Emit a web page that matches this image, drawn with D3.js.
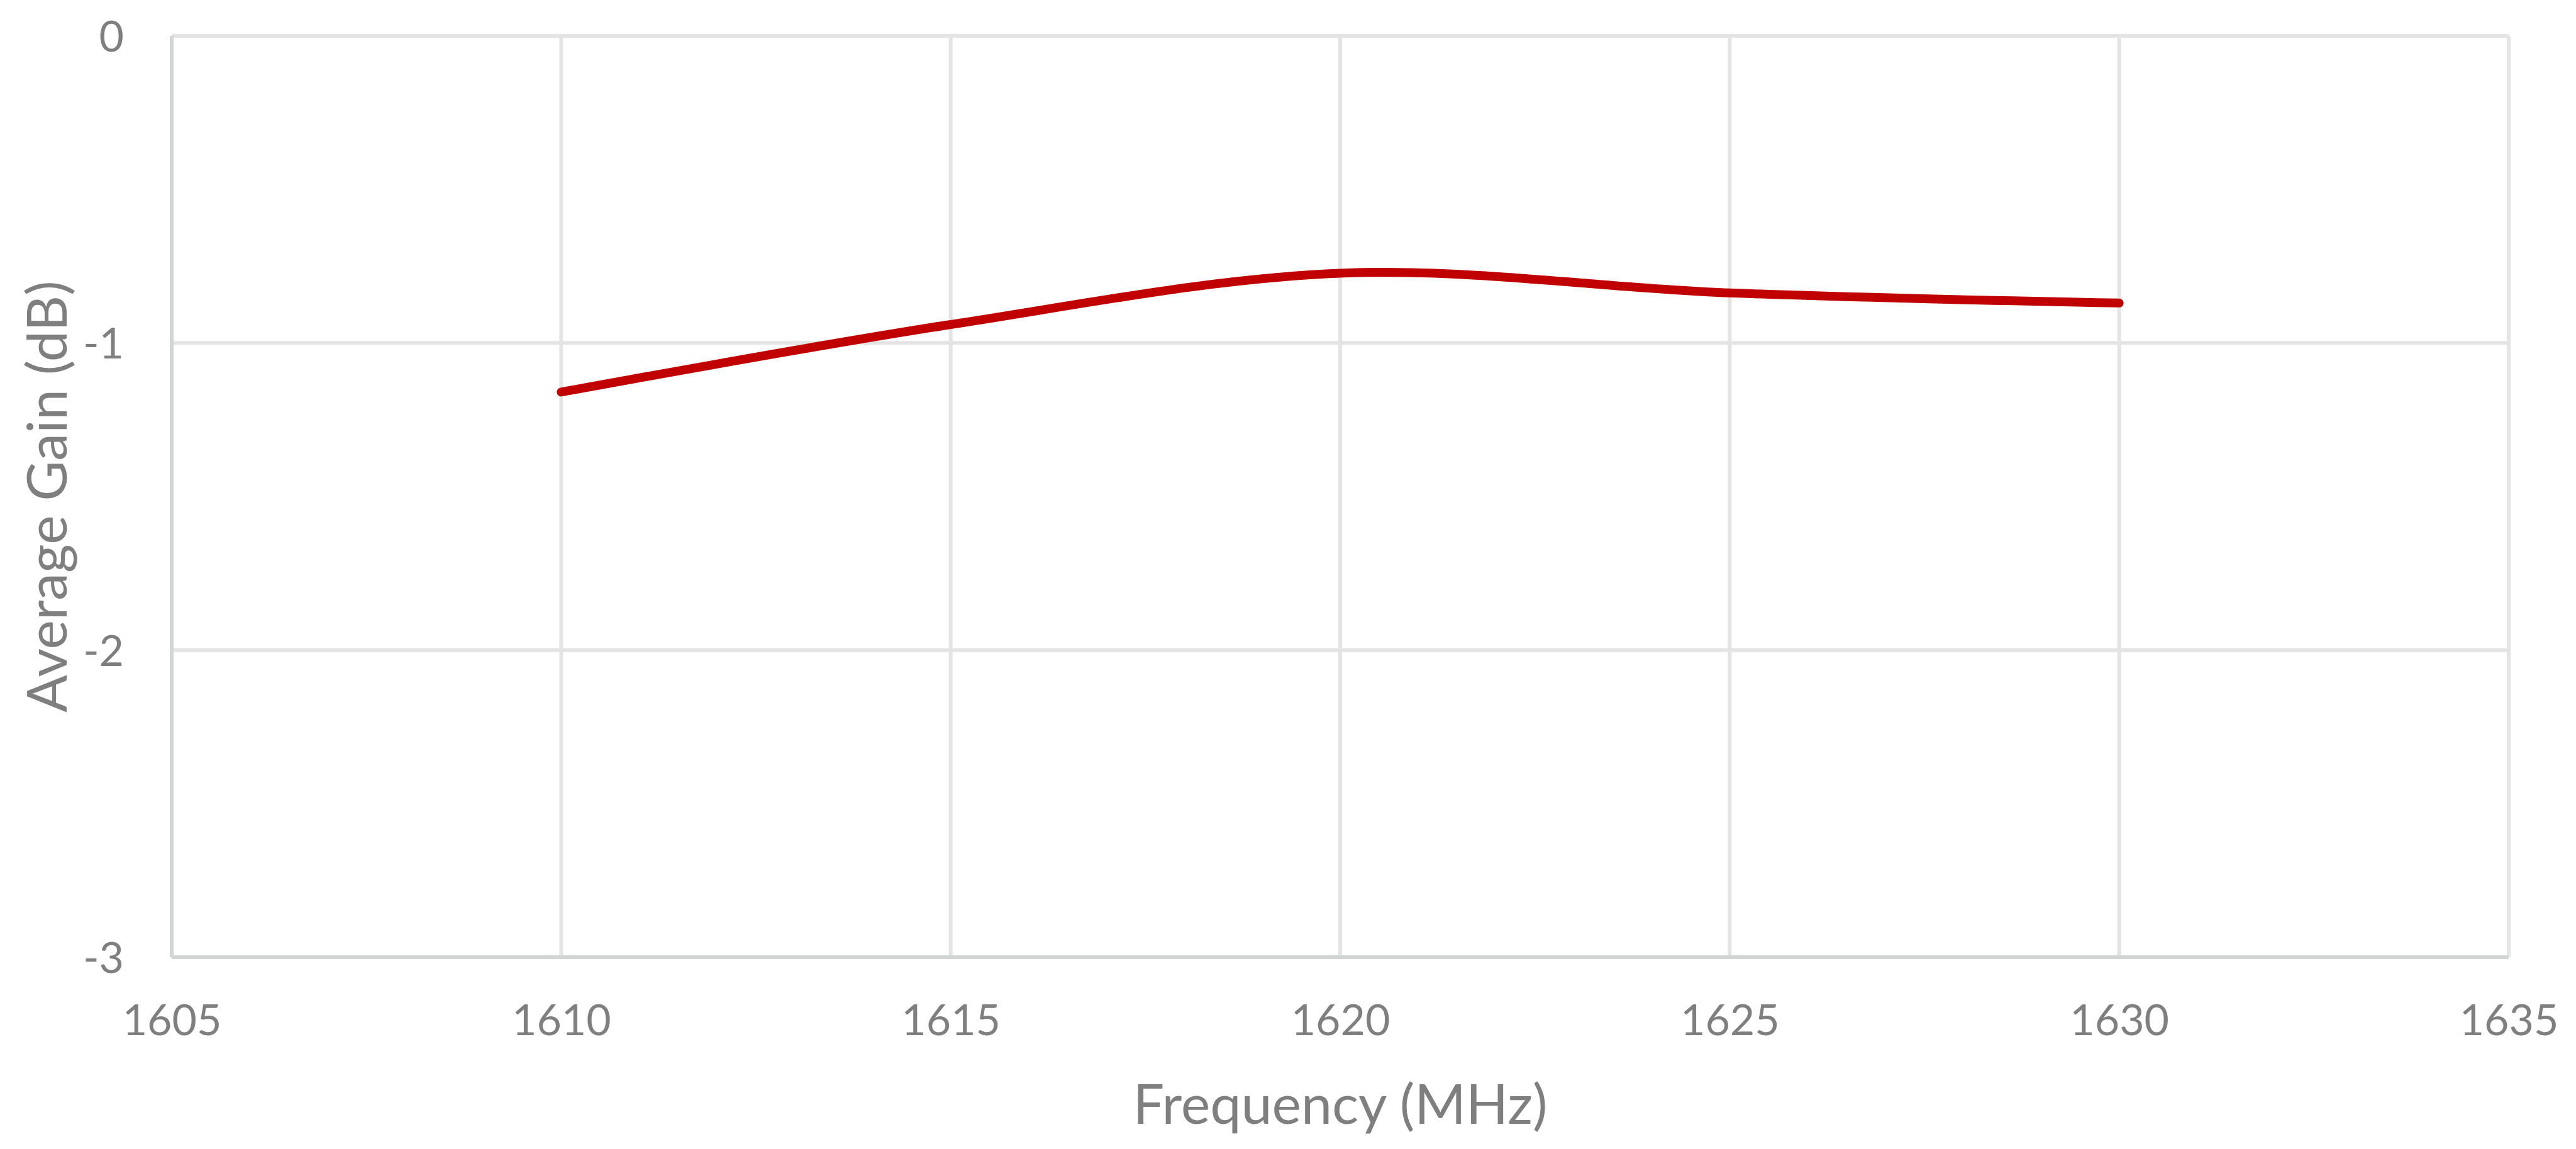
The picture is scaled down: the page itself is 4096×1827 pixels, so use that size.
<!DOCTYPE html>
<html>
<head>
<meta charset="utf-8">
<script src="https://cdn.jsdelivr.net/npm/d3@7"></script>
<style>
  body { margin: 0; background: #fff; }
  text { font-family: Lato, "Open Sans", sans-serif; fill: #7f7f7f; }
</style>
</head>
<body>
<div id="main"></div>
<script>
// data
const frequencies = [1610, 1615, 1620, 1625, 1630];
const avgGain = [-1.16, -0.94, -0.773, -0.837, -0.87];
const xTicks = [1605, 1610, 1615, 1620, 1625, 1630, 1635];
const yTicks = [0, -1, -2, -3];

const ctx = {
    width: 4096,
    height: 1827,
    margin: {top: 57, right: 107, bottom: 305, left: 273}
};
ctx.plotW = ctx.width - ctx.margin.left - ctx.margin.right;
ctx.plotH = ctx.height - ctx.margin.top - ctx.margin.bottom;

const svg = d3.select("#main").append("svg")
    .attr("width", ctx.width)
    .attr("height", ctx.height);

const chart = svg.append("g")
    .attr("transform", `translate(${ctx.margin.left},${ctx.margin.top})`);

const x = d3.scaleLinear().domain([1605, 1635]).range([0, ctx.plotW]);
const y = d3.scaleLinear().domain([-3, 0]).range([ctx.plotH, 0]);

// gridlines
chart.append("g")
    .selectAll("line.vgrid")
    .data(xTicks.slice(1))
    .enter().append("line")
    .attr("x1", d => x(d)).attr("x2", d => x(d))
    .attr("y1", 0).attr("y2", ctx.plotH)
    .attr("stroke", "#e4e4e4")
    .attr("stroke-width", 6);

chart.append("g")
    .selectAll("line.hgrid")
    .data(yTicks.filter(d => d > -3))
    .enter().append("line")
    .attr("x1", 0).attr("x2", ctx.plotW)
    .attr("y1", d => y(d)).attr("y2", d => y(d))
    .attr("stroke", "#e4e4e4")
    .attr("stroke-width", 6);

// axes
const xAxis = chart.append("g")
    .attr("transform", `translate(0,${ctx.plotH})`)
    .call(d3.axisBottom(x).tickValues(xTicks).tickSize(0).tickFormat(d => String(d)));
xAxis.select(".domain").remove();
xAxis.selectAll("text")
    .attr("y", 124)
    .attr("dy", 0)
    .style("font-size", "68px")
    .attr("fill", "#7f7f7f");

const yAxis = chart.append("g")
    .call(d3.axisLeft(y).tickValues(yTicks).tickSize(0).tickFormat(d => String(d)));
yAxis.select(".domain").remove();
yAxis.selectAll("text")
    .attr("x", -76)
    .attr("dy", "0.36em")
    .style("font-size", "68px")
    .attr("fill", "#7f7f7f");

chart.append("line")
    .attr("x1", 0).attr("x2", ctx.plotW)
    .attr("y1", ctx.plotH).attr("y2", ctx.plotH)
    .attr("stroke", "#d1d5d5")
    .attr("stroke-width", 6);
chart.append("line")
    .attr("x1", 0).attr("x2", 0)
    .attr("y1", 0).attr("y2", ctx.plotH)
    .attr("stroke", "#d1d5d5")
    .attr("stroke-width", 6);

// series
const line = d3.line()
    .x((d, i) => x(frequencies[i]))
    .y(d => y(d))
    .curve(d3.curveCardinal.tension(0));

chart.append("path")
    .datum(avgGain)
    .attr("d", line)
    .attr("fill", "none")
    .attr("stroke", "#c00000")
    .attr("stroke-width", 14)
    .attr("stroke-linecap", "round")
    .attr("stroke-linejoin", "round");

// axis titles
svg.append("text")
    .attr("x", ctx.margin.left + ctx.plotW / 2)
    .attr("y", 1787)
    .attr("text-anchor", "middle")
    .style("font-size", "88px")
    .text("Frequency (MHz)");

svg.append("text")
    .attr("transform", `translate(106,${ctx.margin.top + ctx.plotH / 2}) rotate(-90)`)
    .attr("text-anchor", "middle")
    .style("font-size", "88px")
    .text("Average Gain (dB)");
</script>
</body>
</html>
